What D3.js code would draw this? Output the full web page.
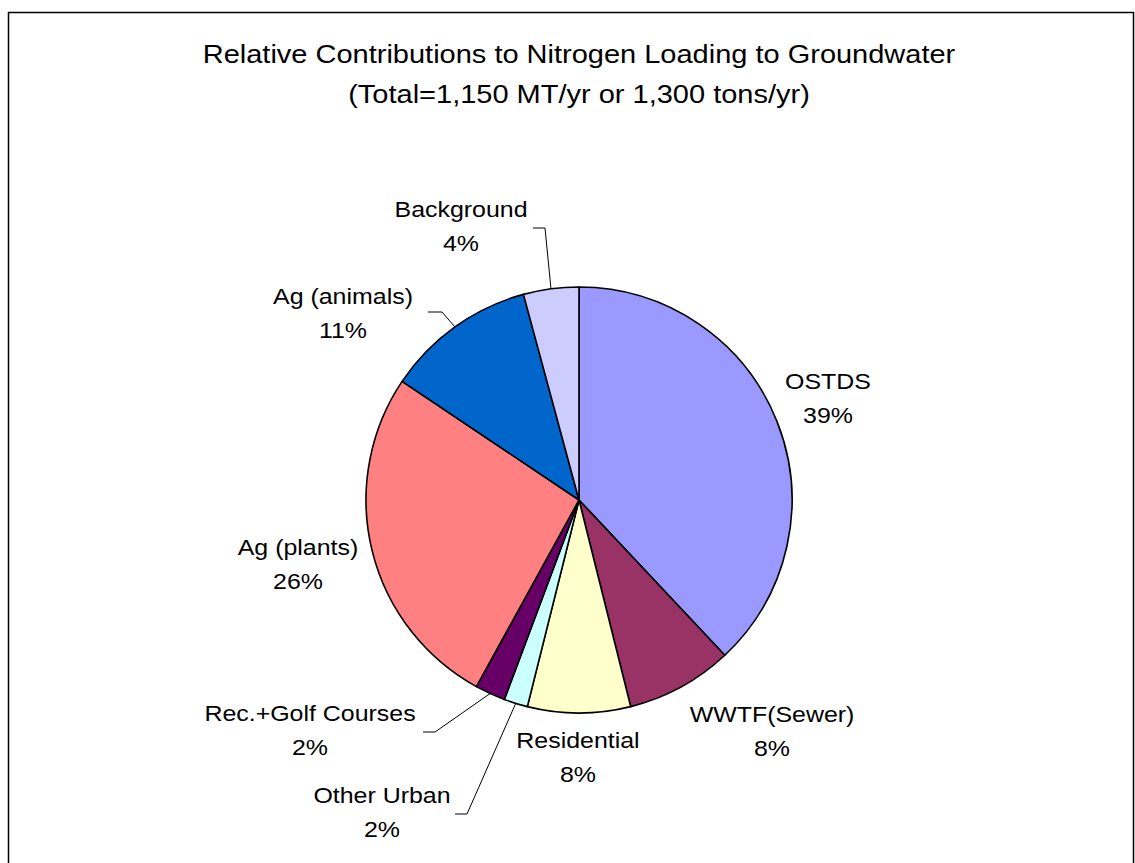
<!DOCTYPE html>
<html><head><meta charset="utf-8">
<script src="https://cdn.jsdelivr.net/npm/d3@7"></script>
<style>
html,body{margin:0;padding:0;background:#fff;}
text{font-family:"Liberation Sans",Arial,sans-serif;fill:#000;}
</style></head>
<body>
<script>
// ---- data ----
const categories = ["OSTDS","WWTF(Sewer)","Residential","Other Urban","Rec.+Golf Courses","Ag (plants)","Ag (animals)","Background"];
const values = [38.0, 8.1, 7.8, 1.8, 2.3, 26.4, 11.4, 4.2];
const pctLabels = ["39%","8%","8%","2%","2%","26%","11%","4%"];
const colors = ["#9999FF","#993366","#FFFFCC","#CCFFFF","#660066","#FF8080","#0066CC","#CCCCFF"];
const titleLines = ["Relative Contributions to Nitrogen Loading to Groundwater","(Total=1,150 MT/yr or 1,300 tons/yr)"];

// ---- layout ----
const W = 1135, H = 863;
const cx = 579, cy = 500, R = 213;
const sx = 1.16;
// label anchor (center x, first baseline y) and optional leader elbow/end
const labelLayout = {
  "OSTDS": {x:828, y:389},
  "WWTF(Sewer)": {x:772, y:722},
  "Residential": {x:578, y:748},
  "Other Urban": {x:382, y:803, elbow:[467,814], end:[455,814]},
  "Rec.+Golf Courses": {x:310, y:721, elbow:[435,732], end:[423,732]},
  "Ag (plants)": {x:298, y:555},
  "Ag (animals)": {x:343, y:304, elbow:[442,312], end:[428,312]},
  "Background": {x:461, y:217, elbow:[545,228], end:[533,228]}
};
const lineGap = 34;

const svg = d3.select("body").append("svg").attr("width", W).attr("height", H);
svg.append("rect").attr("width", W).attr("height", H).attr("fill", "#fff");
// frame
svg.append("path").attr("d", `M8.5,${H+5} V12.5 H1133.5 V${H+5}`)
  .attr("fill","none").attr("stroke","#000").attr("stroke-width",1.5);

// title
titleLines.forEach((t,i)=>{
  svg.append("text").attr("transform",`translate(${cx},${63+i*40}) scale(${sx},1)`)
    .attr("text-anchor","middle").attr("font-size",25).text(t);
});

const data = categories.map((c,i)=>({name:c, value:values[i], pct:pctLabels[i], color:colors[i]}));
const pie = d3.pie().value(d=>d.value).sort(null).startAngle(0).endAngle(2*Math.PI);
const arcs = pie(data);
const arc = d3.arc().innerRadius(0).outerRadius(R);

const g = svg.append("g").attr("transform",`translate(${cx},${cy})`);
g.selectAll("path.slice").data(arcs).enter().append("path")
  .attr("class","slice").attr("d",arc)
  .attr("fill",d=>d.data.color).attr("stroke","#000").attr("stroke-width",1.6)
  .attr("stroke-linejoin","round");

// leader lines
arcs.forEach(a=>{
  const L = labelLayout[a.data.name];
  if(!L.elbow) return;
  const m = (a.startAngle + a.endAngle)/2;
  const p0 = [cx + R*Math.sin(m), cy - R*Math.cos(m)];
  svg.append("polyline").attr("points",[p0, L.elbow, L.end].map(p=>p.join(",")).join(" "))
    .attr("fill","none").attr("stroke","#000").attr("stroke-width",1);
});

// labels
arcs.forEach(a=>{
  const L = labelLayout[a.data.name];
  [a.data.name, a.data.pct].forEach((t,i)=>{
    svg.append("text").attr("transform",`translate(${L.x},${L.y+i*lineGap}) scale(${sx},1)`)
      .attr("text-anchor","middle").attr("font-size",21.5).text(t);
  });
});
</script>
</body></html>
